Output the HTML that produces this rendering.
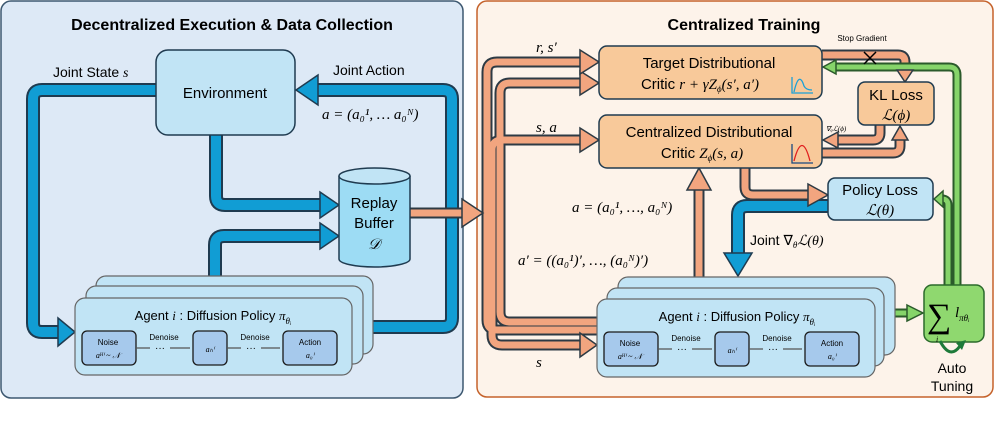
<!DOCTYPE html><html><head><style>body{margin:0;background:#fff}svg{display:block}text{font-family:"Liberation Sans",sans-serif}.m{font-family:"Liberation Serif",serif;font-style:italic}</style></head><body>
<svg width="996" height="447" viewBox="0 0 996 447" xmlns="http://www.w3.org/2000/svg">
<rect x="1" y="1" width="462" height="397" rx="10" fill="#dde9f6" stroke="#3d5870" stroke-width="1.5"/>
<rect x="477" y="1" width="516" height="396" rx="10" fill="#fdf3ea" stroke="#c5622b" stroke-width="1.5"/>
<text x="232" y="30" font-size="16" font-weight="bold" text-anchor="middle">Decentralized Execution &amp; Data Collection</text>
<text x="744" y="30" font-size="16" font-weight="bold" text-anchor="middle">Centralized Training</text>

<g fill="none" stroke-linejoin="round">
<g stroke="#1f3b50" stroke-width="14">
<path d="M156,90 H42 Q33,90 33,99 V323 Q33,332 42,332 H60"/>
<path d="M352,327 H443 Q452,327 452,318 V99 Q452,90 443,90 H318"/>
<path d="M216,135 V196 Q216,205 225,205 H322"/>
<path d="M215,298 V245 Q215,236 224,236 H322"/>
<path d="M828,206 H747 Q738,206 738,215 V255"/>
</g>
<g stroke="#119dd4" stroke-width="10">
<path d="M156,90 H42 Q33,90 33,99 V323 Q33,332 42,332 H60"/>
<path d="M352,327 H443 Q452,327 452,318 V99 Q452,90 443,90 H318"/>
<path d="M216,135 V196 Q216,205 225,205 H322"/>
<path d="M215,298 V245 Q215,236 224,236 H322"/>
<path d="M828,206 H747 Q738,206 738,215 V255"/>
</g>
<g stroke="#2d3a44" stroke-width="11">
<path d="M410,213 H464"/>
<path d="M597,322 H510 Q500,322 500,312 V93 Q500,83 510,83 H582"/>
<path d="M597,330 H497 Q487,330 487,320 V72 Q487,62 497,62 H582"/>
<path d="M582,345 H502 Q492,345 492,335 V150 Q492,140 502,140 H582"/>
<path d="M699,299 V188"/>
<path d="M745,168 V187 Q745,195 753,195 H810"/>
<path d="M822,153 H893 Q900,153 900,146 V140"/>
<path d="M880,125 V133 Q880,140 873,140 H838"/>
<path d="M822,55 H898 Q905,55 905,62 V70"/>
</g>
<g stroke="#f2a57f" stroke-width="7">
<path d="M410,213 H464"/>
<path d="M597,322 H510 Q500,322 500,312 V93 Q500,83 510,83 H582"/>
<path d="M597,330 H497 Q487,330 487,320 V72 Q487,62 497,62 H582"/>
<path d="M582,345 H502 Q492,345 492,335 V150 Q492,140 502,140 H582"/>
<path d="M699,299 V188"/>
<path d="M745,168 V187 Q745,195 753,195 H810"/>
<path d="M822,153 H893 Q900,153 900,146 V140"/>
<path d="M880,125 V133 Q880,140 873,140 H838"/>
<path d="M822,55 H898 Q905,55 905,62 V70"/>
</g>
<g stroke="#2b5a2b" stroke-width="9">
<path d="M957,285 V75 Q957,67 949,67 H836"/>
<path d="M948,285 V205 Q948,199 942,199 H941"/>
<path d="M875,313 H908"/>
</g>
<g stroke="#86d46a" stroke-width="5">
<path d="M957,285 V75 Q957,67 949,67 H836"/>
<path d="M948,285 V205 Q948,199 942,199 H941"/>
<path d="M875,313 H908"/>
</g>
</g>
<g stroke="#1f3b50" stroke-width="1.5" fill="#119dd4">
<polygon points="58,318 75,332 58,346"/>
<polygon points="318,75 296,90 318,105"/>
<polygon points="320,192 339,205 320,218"/>
<polygon points="320,223 339,236 320,249"/>
<polygon points="724,253 738,276 752,253"/>
</g>
<g stroke="#2d3a44" stroke-width="1.5" fill="#f2a57f">
<polygon points="462,199 483,213 462,227"/>
<polygon points="580,71 599,83 580,95"/>
<polygon points="580,50 599,62 580,74"/>
<polygon points="580,128 599,140 580,152"/>
<polygon points="580,333 597,345 580,357"/>
<polygon points="687,190 699,168 711,190"/>
<polygon points="808,184 828,195 808,206"/>
<polygon points="892,140 900,126 908,140"/>
<polygon points="838,132 823,140 838,148"/>
<polygon points="897,70 905,82 913,70"/>
</g>
<g stroke="#2b5a2b" stroke-width="1.5" fill="#86d46a">
<polygon points="836,60 823,67 836,74"/>
<polygon points="943,191 934,199 943,207"/>
<polygon points="907,305 923,313 907,321"/>
</g>
<path d="M864,52 L876,64 M876,52 L864,64" stroke="#000" stroke-width="1.5"/>
<text x="862" y="41" font-size="8" text-anchor="middle">Stop Gradient</text>

<rect x="156" y="50" width="139" height="85" rx="12" fill="#c1e4f5" stroke="#1f3b50" stroke-width="1.5"/>
<text x="225" y="98" font-size="15" text-anchor="middle">Environment</text>
<text x="53" y="77" font-size="14">Joint State <tspan class="m">s</tspan></text>
<text x="333" y="75" font-size="14">Joint Action</text>
<text x="322" y="119" font-size="15" class="m">a = (a₀¹, … a₀ᴺ)</text>
<path d="M339,176 V259 A35.5,8 0 0 0 410,259 V176" fill="#9ddcf4" stroke="#1f3b50" stroke-width="1.5"/>
<ellipse cx="374.5" cy="176" rx="35.5" ry="8" fill="#c1e4f5" stroke="#1f3b50" stroke-width="1.5"/>
<text x="374" y="208" font-size="15" text-anchor="middle">Replay</text>
<text x="374" y="228" font-size="15" text-anchor="middle">Buffer</text>
<text x="374" y="249" font-size="15" text-anchor="middle" class="m">𝒟</text>

<g stroke="#666" stroke-width="1.2" fill="#c1e4f5">
<rect x="96" y="276" width="277" height="78" rx="10"/>
<rect x="86" y="286" width="277" height="78" rx="10"/>
<rect x="75" y="298" width="277" height="77" rx="10"/>
</g>
<text x="213" y="320" font-size="13" text-anchor="middle">Agent <tspan class="m">i</tspan> : Diffusion Policy <tspan class="m">π<tspan font-size="9" dy="4">θᵢ</tspan></tspan></text>
<g stroke="#1a1a1a" stroke-width="1.3" fill="#a6c9ec">
<rect x="82" y="331" width="54" height="34" rx="5"/>
<rect x="193" y="331" width="34" height="34" rx="5"/>
<rect x="283" y="331" width="54" height="34" rx="5"/>
</g>
<g font-size="8" text-anchor="middle"><text x="108" y="345">Noise</text><text x="108" y="358" class="m">aᴴⁱ ~ 𝒩</text><text x="210" y="352" class="m">aₕⁱ</text><text x="310" y="345">Action</text><text x="310" y="358" class="m">a₀ⁱ</text><text x="164" y="340">Denoise</text><text x="255" y="340">Denoise</text></g>
<g stroke="#555" stroke-width="1.3"><path d="M136,348 H150 M170,348 H190 M227,348 H241 M261,348 H280"/></g>
<text x="160" y="351" font-size="10" text-anchor="middle">···</text><text x="251" y="351" font-size="10" text-anchor="middle">···</text>

<rect x="599" y="46" width="223" height="53" rx="8" fill="#f8c99a" stroke="#1f3b50" stroke-width="1.5"/>
<text x="709" y="68" font-size="15" text-anchor="middle">Target Distributional</text>
<text x="700" y="89" font-size="15" text-anchor="middle">Critic <tspan class="m">r + γZ<tspan font-size="9" dy="3">ϕ</tspan><tspan dy="-3">(s′, a′)</tspan></tspan></text>
<path d="M792,77 V93 H813 M794,92 Q799,70 804,86 Q806,90 812,90" fill="none" stroke="#1aa0d8" stroke-width="1.3"/>
<rect x="599" y="115" width="223" height="53" rx="8" fill="#f8c99a" stroke="#1f3b50" stroke-width="1.5"/>
<text x="709" y="137" font-size="15" text-anchor="middle">Centralized Distributional</text>
<text x="702" y="158" font-size="15" text-anchor="middle">Critic <tspan class="m">Z<tspan font-size="9" dy="3">ϕ</tspan><tspan dy="-3">(s, a)</tspan></tspan></text>
<path d="M794,161 Q802,130 810,161" fill="none" stroke="#e02020" stroke-width="1.3"/>
<path d="M792,144 V163 H813" fill="none" stroke="#1a4a80" stroke-width="1.3"/>
<rect x="858" y="82" width="76" height="43" rx="7" fill="#f8c99a" stroke="#1f3b50" stroke-width="1.5"/>
<text x="896" y="100" font-size="15" text-anchor="middle">KL Loss</text>
<text x="896" y="120" font-size="15" text-anchor="middle" class="m">ℒ(ϕ)</text>
<text x="826" y="131" font-size="7" class="m">∇ᵩℒ(ϕ)</text>
<rect x="828" y="178" width="105" height="42" rx="7" fill="#c1e4f5" stroke="#1f3b50" stroke-width="1.5"/>
<text x="880" y="195" font-size="15" text-anchor="middle">Policy Loss</text>
<text x="880" y="215" font-size="15" text-anchor="middle" class="m">ℒ(θ)</text>
<text x="750" y="245" font-size="14">Joint ∇<tspan class="m" font-size="9" dy="3">θ</tspan><tspan class="m" dy="-3">ℒ(θ)</tspan></text>
<text x="536" y="52" font-size="15" class="m">r, s′</text>
<text x="536" y="132" font-size="15" class="m">s, a</text>
<text x="536" y="367" font-size="15" class="m">s</text>
<text x="572" y="212" font-size="15" class="m">a = (a₀¹, …, a₀ᴺ)</text>
<text x="518" y="265" font-size="15" class="m">a′ = ((a₀¹)′, …, (a₀ᴺ)′)</text>

<g stroke="#666" stroke-width="1.2" fill="#c1e4f5">
<rect x="618" y="277" width="277" height="78" rx="10"/>
<rect x="607" y="288" width="277" height="78" rx="10"/>
<rect x="597" y="299" width="278" height="78" rx="10"/>
</g>
<text x="737" y="321" font-size="13" text-anchor="middle">Agent <tspan class="m">i</tspan> : Diffusion Policy <tspan class="m">π<tspan font-size="9" dy="4">θᵢ</tspan></tspan></text>
<g stroke="#1a1a1a" stroke-width="1.3" fill="#a6c9ec">
<rect x="604" y="332" width="54" height="34" rx="5"/>
<rect x="715" y="332" width="34" height="34" rx="5"/>
<rect x="805" y="332" width="54" height="34" rx="5"/>
</g>
<g font-size="8" text-anchor="middle"><text x="630" y="346">Noise</text><text x="630" y="359" class="m">aᴴⁱ ~ 𝒩</text><text x="732" y="353" class="m">aₕⁱ</text><text x="832" y="346">Action</text><text x="832" y="359" class="m">a₀ⁱ</text><text x="686" y="341">Denoise</text><text x="777" y="341">Denoise</text></g>
<g stroke="#555" stroke-width="1.3"><path d="M658,349 H672 M692,349 H712 M749,349 H763 M783,349 H802"/></g>
<text x="682" y="352" font-size="10" text-anchor="middle">···</text><text x="773" y="352" font-size="10" text-anchor="middle">···</text>

<rect x="924" y="285" width="60" height="57" rx="8" fill="#8fd86f" stroke="#2b6a2b" stroke-width="1.5"/>
<text x="927" y="327" font-size="34" class="m" font-style="normal">∑</text>
<text x="955" y="317" font-size="15" class="m">l<tspan font-size="9" dy="4">πθᵢ</tspan></text>
<text x="936" y="342" font-size="8" class="m">i</text>
<path d="M940,341 Q950,360 960,346" fill="none" stroke="#1e7a3a" stroke-width="3"/>
<polygon points="956,343 966,340 962,350" fill="#1e7a3a"/>
<text x="952" y="373" font-size="14" text-anchor="middle">Auto</text>
<text x="952" y="391" font-size="14" text-anchor="middle">Tuning</text>
</svg>
</body></html>
